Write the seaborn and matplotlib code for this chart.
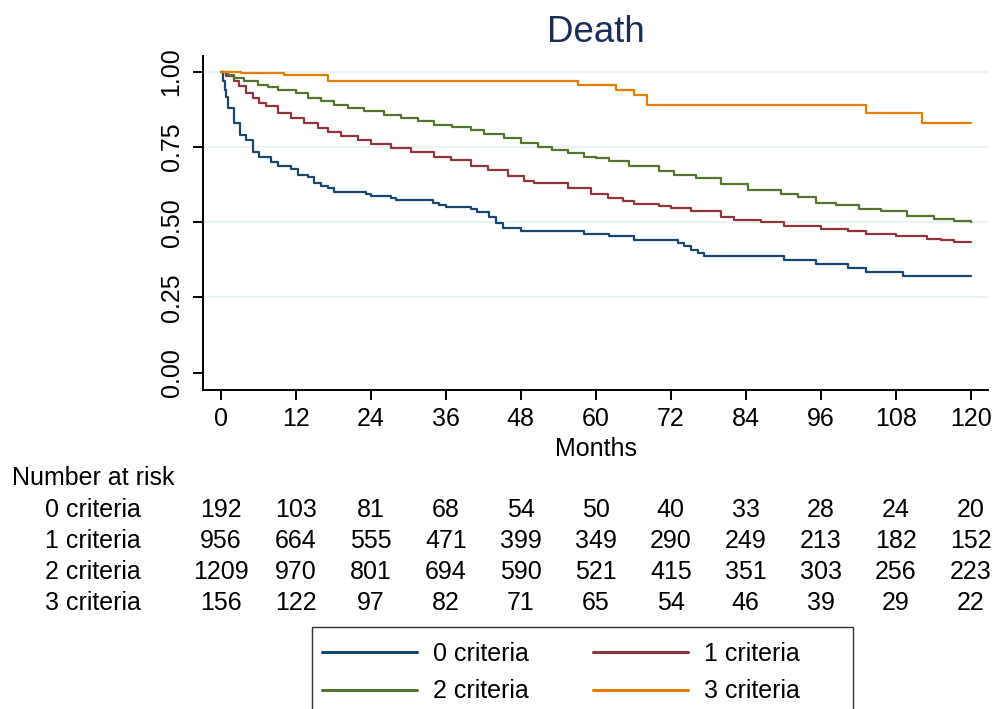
import pandas as pd
import matplotlib.pyplot as plt
import seaborn as sns
from matplotlib.patches import Rectangle
from matplotlib.transforms import blended_transform_factory

# Kaplan-Meier step curves (months, survival)
months_0 = [0, 0.3, 0.6, 0.8, 1.1, 2.1, 3.1, 4.0, 5.1, 6.1, 8.0, 9.1, 11.2, 12.3, 13.9, 14.9,
            16.0, 17.1, 18.1, 23.2, 24.0, 27.2, 28.0, 33.9, 34.9, 36.0, 40.0, 41.0, 42.9, 44.0,
            45.1, 48.0, 58.1, 62.1, 66.1, 73.1, 74.1, 75.2, 76.3, 77.3, 90.1, 95.2, 100.3,
            103.2, 109.2, 120]
surv_0 = [1.0, 0.97, 0.94, 0.917, 0.88, 0.83, 0.79, 0.774, 0.734, 0.718, 0.70, 0.688, 0.678,
          0.658, 0.651, 0.631, 0.621, 0.615, 0.601, 0.595, 0.588, 0.58, 0.572, 0.565, 0.558,
          0.552, 0.543, 0.535, 0.518, 0.498, 0.482, 0.472, 0.462, 0.453, 0.442, 0.43, 0.42,
          0.409, 0.397, 0.386, 0.375, 0.362, 0.348, 0.334, 0.321, 0.321]

months_1 = [0, 0.8, 2.1, 2.9, 4.0, 5.1, 6.1, 7.2, 9.1, 11.2, 13.3, 15.5, 17.1, 19.2, 21.9,
            24.0, 27.2, 30.4, 34.1, 36.8, 40.0, 42.7, 45.9, 48.5, 50.1, 55.5, 59.2, 61.9,
            64.3, 66.1, 70.1, 72.0, 75.2, 80.0, 82.1, 86.4, 90.1, 96.0, 100.3, 103.2, 108.0,
            113.1, 115.2, 117.3, 120]
surv_1 = [1.0, 0.984, 0.968, 0.951, 0.929, 0.912, 0.896, 0.885, 0.862, 0.846, 0.829, 0.812,
          0.798, 0.785, 0.774, 0.761, 0.746, 0.732, 0.718, 0.705, 0.688, 0.673, 0.655, 0.636,
          0.63, 0.613, 0.595, 0.58, 0.569, 0.56, 0.555, 0.547, 0.536, 0.517, 0.508, 0.5,
          0.486, 0.477, 0.47, 0.462, 0.455, 0.445, 0.44, 0.434, 0.434]

months_2 = [0, 1.1, 2.1, 3.7, 5.9, 7.5, 9.1, 12.0, 13.9, 16.0, 18.1, 20.3, 22.9, 26.1, 28.8,
            31.5, 34.1, 37.0, 40.0, 42.1, 45.3, 48.0, 50.7, 53.0, 55.5, 58.1, 60.0, 62.1,
            65.3, 70.1, 72.5, 76.0, 80.0, 84.3, 89.6, 92.3, 95.2, 98.5, 102.1, 105.6, 109.9,
            114.1, 117.3, 120]
surv_2 = [1.0, 0.99, 0.979, 0.968, 0.957, 0.949, 0.94, 0.929, 0.912, 0.901, 0.89, 0.879,
          0.868, 0.857, 0.846, 0.835, 0.824, 0.816, 0.805, 0.794, 0.779, 0.763, 0.749, 0.74,
          0.729, 0.718, 0.713, 0.702, 0.688, 0.669, 0.658, 0.647, 0.628, 0.606, 0.595, 0.584,
          0.564, 0.557, 0.545, 0.538, 0.52, 0.509, 0.503, 0.5]

months_3 = [0, 3.2, 10.1, 17.1, 57.1, 63.2, 66.1, 68.2, 103.2, 112.2, 120]
surv_3 = [1.0, 0.995, 0.988, 0.970, 0.955, 0.939, 0.922, 0.89, 0.862, 0.831, 0.831]

groups = ['0 criteria', '1 criteria', '2 criteria', '3 criteria']
colors = ['#1a476f', '#90353b', '#55752f', '#e37e00']

# number at risk table
risk_months = [0, 12, 24, 36, 48, 60, 72, 84, 96, 108, 120]
risk_0 = [192, 103, 81, 68, 54, 50, 40, 33, 28, 24, 20]
risk_1 = [956, 664, 555, 471, 399, 349, 290, 249, 213, 182, 152]
risk_2 = [1209, 970, 801, 694, 590, 521, 415, 351, 303, 256, 223]
risk_3 = [156, 122, 97, 82, 71, 65, 54, 46, 39, 29, 22]

frames = []
for g, m, s in zip(groups, [months_0, months_1, months_2, months_3],
                   [surv_0, surv_1, surv_2, surv_3]):
    frames.append(pd.DataFrame({'months': m, 'survival': s, 'group': g}))
df = pd.concat(frames, ignore_index=True)

sns.set_theme(style='white')
plt.rcParams['font.family'] = ['Liberation Sans', 'DejaVu Sans']
plt.rcParams['text.color'] = 'black'

fig, ax = plt.subplots(figsize=(9.95, 7.09), dpi=100)
fig.subplots_adjust(left=0.204, right=0.993, bottom=0.4506, top=0.921)

sns.lineplot(data=df, x='months', y='survival', hue='group', hue_order=groups,
             palette=colors, estimator=None, drawstyle='steps-post', linewidth=1.6, ax=ax)

ax.set_xlim(-2.9, 122.8)
ax.set_ylim(-0.056, 1.052)
ax.set_xticks(risk_months)
ax.set_yticks([0, 0.25, 0.5, 0.75, 1.0])
ax.set_yticklabels(['0.00', '0.25', '0.50', '0.75', '1.00'])
ax.yaxis.grid(True, color='#eaf2f3', linewidth=1.6)
ax.yaxis.get_gridlines()[0].set_visible(False)
ax.set_axisbelow(True)

for side in ['top', 'right']:
    ax.spines[side].set_visible(False)
for side in ['left', 'bottom']:
    ax.spines[side].set_color('black')
    ax.spines[side].set_linewidth(1.4)

ax.tick_params(axis='both', which='major', length=7, width=1.4, color='black',
               labelsize=18, labelcolor='black', left=True, bottom=True)
ax.tick_params(axis='x', pad=5.5)
ax.tick_params(axis='y', pad=7, labelrotation=90)
for lab in ax.get_yticklabels():
    lab.set_verticalalignment('center')

ax.set_xlabel('Months', fontsize=18, color='black', labelpad=4.6)
ax.set_ylabel('')

fig.text(0.5985, 1 - 41.7 / 709, 'Death', fontsize=26.5, color='#1c2d5a',
         ha='center', va='baseline')

# number at risk
tr = blended_transform_factory(ax.transData, fig.transFigure)
fig.text(12 / 995, 1 - 485 / 709, 'Number at risk', fontsize=18, ha='left', va='baseline')
row_y = [517, 548, 579, 610]
for g, risks, yb in zip(groups, [risk_0, risk_1, risk_2, risk_3], row_y):
    fig.text(45 / 995, 1 - yb / 709, g, fontsize=18, ha='left', va='baseline')
    for m, n in zip(risk_months, risks):
        ax.text(m, 1 - yb / 709, str(n), transform=tr, fontsize=18,
                ha='center', va='baseline', clip_on=False)

# legend (Stata-style box, runs off the bottom of the figure)
handles, labels = ax.get_legend_handles_labels()
ax.get_legend().remove()
order = [0, 2, 1, 3]
leg = fig.legend([handles[i] for i in order], [labels[i] for i in order],
                 loc='upper left', bbox_to_anchor=(322 / 995, 1 - 642 / 709),
                 ncol=2, fontsize=18, frameon=False,
                 handlelength=3.8, handletextpad=0.65, columnspacing=2.54,
                 borderpad=0, labelspacing=0.53, borderaxespad=0)
for line in leg.get_lines():
    line.set_linewidth(2.2)
fig.patches.append(Rectangle((312 / 995, -0.05), (853 - 312) / 995, (709 - 627) / 709 + 0.05,
                             transform=fig.transFigure, fill=False,
                             edgecolor='#333333', linewidth=1.0))

fig.savefig('out.png', dpi=100)
